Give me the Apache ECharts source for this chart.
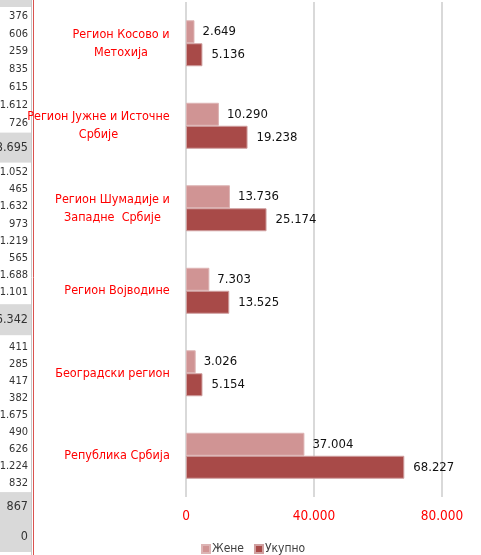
<!DOCTYPE html>
<html>
<head>
<meta charset="utf-8">
<script src="https://cdn.jsdelivr.net/npm/echarts@6.0.0/dist/echarts.min.js"></script>
<style>
  html, body { margin: 0; padding: 0; background: #fff; }
  #main { width: 481px; height: 555px; }
</style>
</head>
<body>
<div id="main"></div>
<script>
// подаци
var regions = ['Регион Косово и\nМетохија', 'Регион Јужне и Источне\nСрбије', 'Регион Шумадије и\nЗападне  Србије', 'Регион Војводине', 'Београдски регион', 'Република Србија'];
var zene = [2649, 10290, 13736, 7303, 3026, 37004];
var ukupno = [5136, 19238, 25174, 13525, 5154, 68227];
var axisTicks = [0, 40000, 80000];
// ћелије табеле лево од графикона
var stripValues = ['376', '606', '259', '835', '615', '1.612', '726', '8.695',
  '1.052', '465', '1.632', '973', '1.219', '565', '1.688', '1.101', '6.342',
  '411', '285', '417', '382', '1.675', '490', '626', '1.224', '832', '867', '0'];

var FONT = '"DejaVu Sans Condensed", "Liberation Sans Narrow", sans-serif';

function fmt(v) {
  return String(v).replace(/\B(?=(\d{3})+(?!\d))/g, '.');
}

// ширина најдужег реда, да би редови били центрирани
var ctx = document.createElement('canvas').getContext('2d');
ctx.font = '12.5px ' + FONT;
var rich = {};
regions.forEach(function (r, i) {
  var w = 0;
  r.split('\n').forEach(function (l) { w = Math.max(w, ctx.measureText(l).width); });
  rich['c' + i] = { width: Math.ceil(w), align: 'center', color: '#FF0000', fontSize: 12.5, fontFamily: FONT, lineHeight: 18 };
});

// распоред ћелија (висине редова)
var rowH = [];
stripValues.forEach(function (v, i) {
  if (i < 7) rowH.push(17.8);
  else if (i == 7) rowH.push(32);
  else if (i < 16) rowH.push(17.2);
  else if (i == 16) rowH.push(37);
  else if (i < 26) rowH.push(17.1);
  else if (i == 26) rowH.push(29);
  else rowH.push(32);
});
var tall = [7, 16, 26, 27];

var graphic = [{ type: 'rect', shape: { x: 0, y: 0, width: 31, height: 7 }, style: { fill: '#D9D9D9' } }];
var y = 7;
stripValues.forEach(function (v, i) {
  var isTall = tall.indexOf(i) >= 0;
  if (isTall) {
    var inset = (i == 16) ? 3 : (i == 7 ? 1 : 0);
    graphic.push({ type: 'rect', shape: { x: 0, y: y + inset, width: 31, height: rowH[i] - inset * 2 }, style: { fill: '#D9D9D9' } });
  }
  graphic.push({
    type: 'text',
    style: { text: v, x: 28, y: y + rowH[i] / 2, fill: '#333', fontSize: isTall ? 12.5 : 11, fontFamily: FONT, align: 'right', verticalAlign: 'middle' }
  });
  y += rowH[i];
});
graphic.push({ type: 'rect', shape: { x: 0, y: 552, width: 31, height: 3 }, style: { fill: '#fff' } });
graphic.push({ type: 'line', shape: { x1: 31.5, y1: 0, x2: 31.5, y2: 555 }, style: { stroke: '#C8C8C8', lineWidth: 1 } });
graphic.push({ type: 'line', shape: { x1: 33.5, y1: 0, x2: 33.5, y2: 555 }, style: { stroke: '#D9534F', lineWidth: 1 } });

var chart = echarts.init(document.getElementById('main'));
var option = {
  animation: false,
  textStyle: { fontFamily: FONT },
  grid: { left: 186, right: 39, top: 2, bottom: 58 },
  legend: {
    data: ['Жене', 'Укупно'],
    left: 196, top: 538,
    icon: 'rect', itemWidth: 8, itemHeight: 8, itemGap: 10,
    textStyle: { color: '#404040', fontSize: 12, fontFamily: FONT, padding: [0, 0, 0, -3] }
  },
  xAxis: {
    type: 'value',
    min: axisTicks[0], max: axisTicks[axisTicks.length - 1], interval: axisTicks[1] - axisTicks[0],
    axisLine: { show: false }, axisTick: { show: false },
    splitLine: { lineStyle: { color: '#D9D9D9', width: 2 } },
    axisLabel: { color: '#FF0000', fontSize: 13.5, fontFamily: FONT, margin: 12, formatter: fmt }
  },
  yAxis: {
    type: 'category', inverse: true, data: regions,
    axisLine: { show: false }, axisTick: { show: false },
    axisLabel: {
      margin: 16, rich: rich,
      formatter: function (v, i) {
        return v.split('\n').map(function (l) { return '{c' + i + '|' + l + '}'; }).join('\n');
      }
    }
  },
  series: [
    {
      name: 'Жене', type: 'bar', data: zene, barWidth: 23, barGap: '0%',
      itemStyle: { color: '#D09494', borderColor: '#DDB4B4', borderWidth: 1 },
      label: { show: true, position: 'right', distance: 8, color: '#111', fontSize: 13, fontFamily: FONT, formatter: function (p) { return fmt(p.value); } }
    },
    {
      name: 'Укупно', type: 'bar', data: ukupno, barWidth: 23, barGap: '0%',
      itemStyle: { color: '#A84A48', borderColor: '#D0A0A0', borderWidth: 1 },
      label: { show: true, position: 'right', distance: 9, color: '#111', fontSize: 13, fontFamily: FONT, formatter: function (p) { return fmt(p.value); } }
    }
  ],
  graphic: graphic
};
chart.setOption(option);
</script>
</body>
</html>
